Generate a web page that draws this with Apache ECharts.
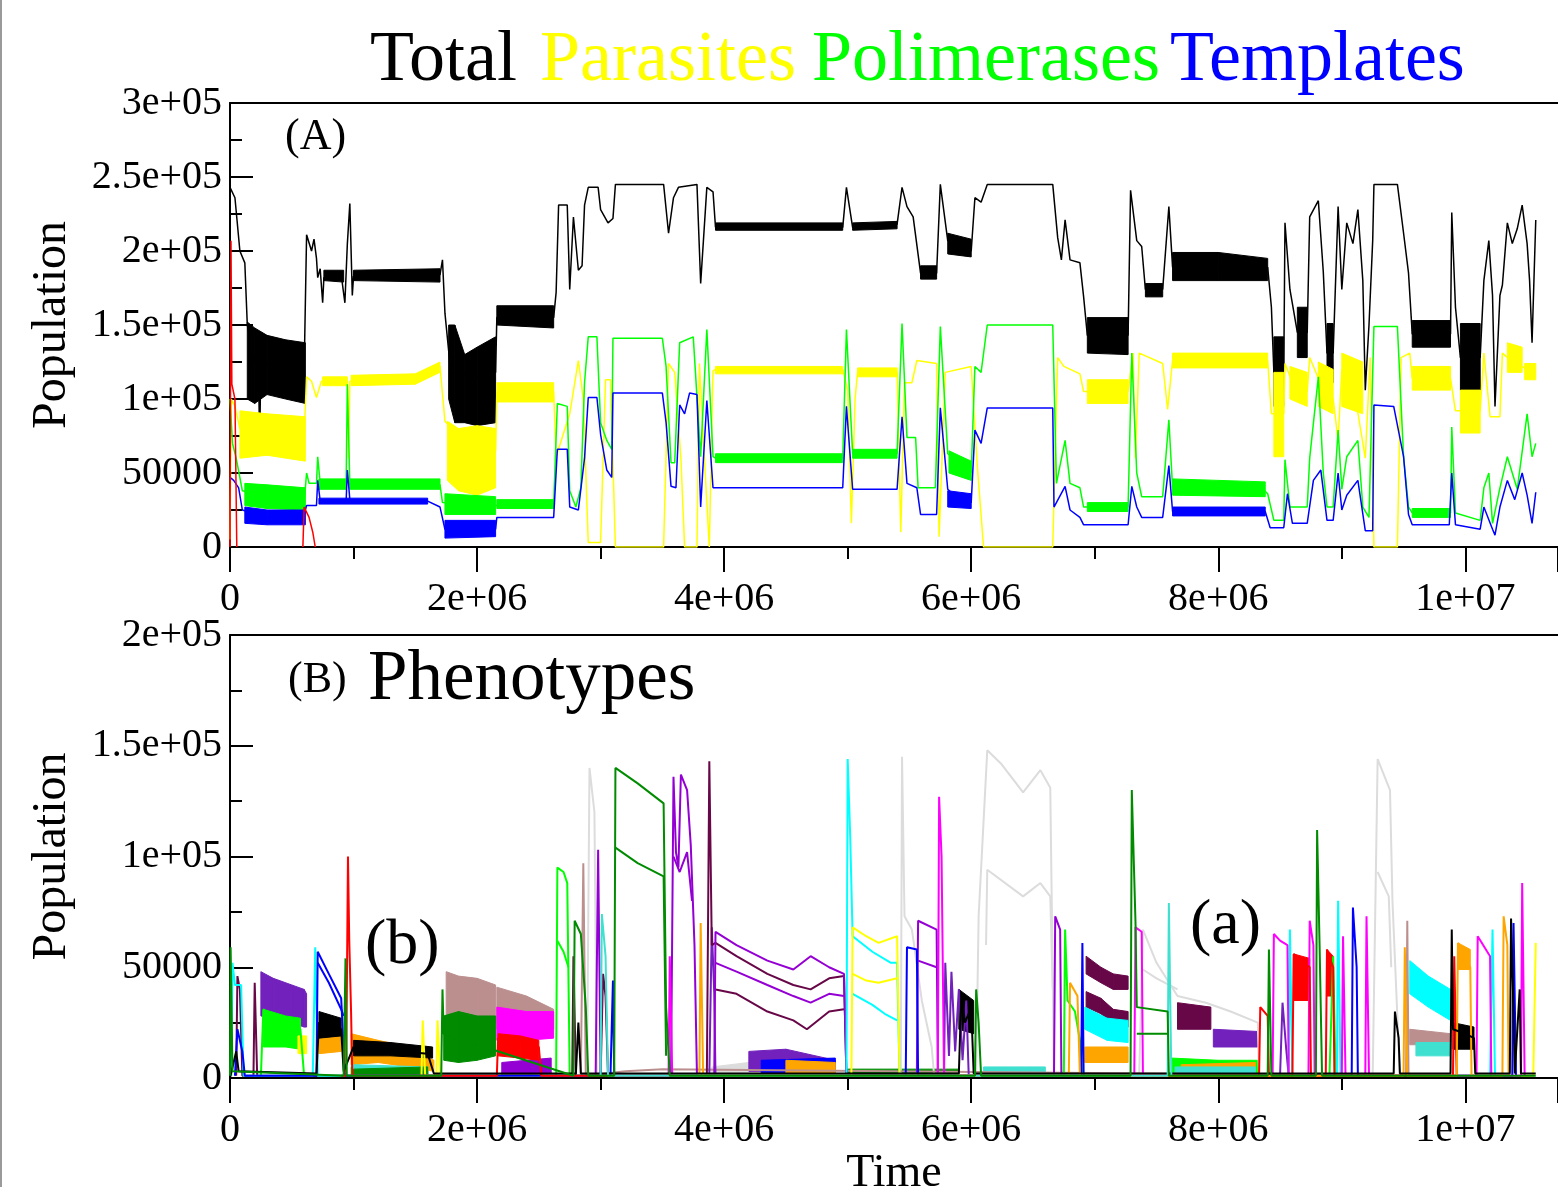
<!DOCTYPE html>
<html><head><meta charset="utf-8">
<script src="https://cdn.jsdelivr.net/npm/echarts@6/dist/echarts.min.js"></script>
<style>html,body{margin:0;padding:0;background:#fff}#c{width:1558px;height:1187px}</style>
</head><body><div id="c"></div>
<script>
// x in units of 1e6 (Time), y in units of 1e3 (Population)
const xTickLabels = ['0','2e+06','4e+06','6e+06','8e+06','1e+07'];
const yTickLabelsA = ['0','50000','1e+05','1.5e+05','2e+05','2.5e+05','3e+05'];
const yTickLabelsB = ['0','50000','1e+05','1.5e+05','2e+05'];
const legendNames = ['Total','Parasites','Polimerases','Templates'];

// ---------- Panel A ----------
const totalLine = [[0,243],[0.04,236],[0.08,200],[0.12,192],[0.14,150],[0.2,125],[0.23,125],[0.24,70],[0.25,125],[0.4,122],[0.6,118],[0.61,118],[0.62,211],[0.66,200],[0.68,208],[0.7,195],[0.71,182],[0.73,188],[0.75,165],[0.76,182],[0.9,184],[0.93,165],[0.95,205],[0.97,232],[0.99,170],[1.0,183],[1.7,184],[1.72,194],[1.74,158],[1.78,124],[1.8,118],[2.0,115],[2.15,118],[2.16,155],[2.62,155],[2.64,172],[2.66,231],[2.73,231],[2.75,174],[2.78,223],[2.82,187],[2.85,190],[2.87,231],[2.9,243],[2.98,243],[3.0,228],[3.06,219],[3.1,222],[3.12,245],[3.51,245],[3.55,212],[3.59,236],[3.63,243],[3.78,245],[3.81,178],[3.86,243],[3.91,240],[3.93,216],[4.96,216],[4.99,243],[5.04,216],[5.4,218],[5.44,243],[5.48,230],[5.53,223],[5.59,185],[5.72,185],[5.75,245],[5.81,207],[5.9,205],[6.0,200],[6.03,236],[6.08,233],[6.13,245],[6.66,245],[6.7,209],[6.73,194],[6.76,221],[6.8,194],[6.88,192],[6.91,169],[6.94,143],[7.27,143],[7.29,241],[7.34,207],[7.38,203],[7.41,174],[7.55,174],[7.6,230],[7.63,189],[8.4,189],[8.43,162],[8.45,118],[8.53,118],[8.54,219],[8.58,174],[8.64,145],[8.72,145],[8.74,223],[8.81,234],[8.85,186],[8.88,131],[8.93,131],[8.97,230],[9.0,174],[9.04,219],[9.09,205],[9.13,228],[9.17,180],[9.19,106],[9.22,150],[9.25,207],[9.26,245],[9.45,245],[9.5,212],[9.54,185],[9.57,144],[9.88,144],[9.89,226],[9.92,162],[9.96,128],[10.12,128],[10.15,180],[10.19,207],[10.22,170],[10.24,95],[10.28,170],[10.3,177],[10.34,219],[10.38,205],[10.42,215],[10.46,231],[10.5,205],[10.52,180],[10.54,138],[10.57,221]];
const totalBands = [
 [[0.14,100,152],[0.2,97,148],[0.3,103,143],[0.45,100,140],[0.61,97,138]],
 [[0.76,180,187],[0.92,179,187]],
 [[1.0,180,187],[1.7,179,188]],
 [[1.77,100,150],[1.82,84,150],[1.9,84,130],[2.0,82,135],[2.15,84,142]],
 [[2.16,150,163],[2.62,148,163]],
 [[3.93,214,219],[4.96,214,219]],
 [[5.04,214,219],[5.4,215,220]],
 [[5.59,181,190],[5.72,181,190]],
 [[5.81,198,212],[6.0,196,208]],
 [[6.94,131,155],[7.27,130,155]],
 [[7.41,169,178],[7.55,169,178]],
 [[7.63,180,199],[8.0,180,199],[8.4,180,195]],
 [[8.45,95,142],[8.53,95,142]],
 [[8.64,128,162],[8.72,128,162]],
 [[8.88,111,151],[8.93,111,151]],
 [[9.57,135,153],[9.88,135,153]],
 [[9.96,106,151],[10.12,106,151]]
];
const parasitesLine = [[0,5],[0.01,100],[0.04,95],[0.08,80],[0.3,75],[0.6,75],[0.62,115],[0.66,112],[0.7,101],[0.74,112],[0.95,112],[0.96,60],[0.97,112],[1.5,113],[1.7,122],[1.74,85],[2.0,62],[2.15,65],[2.16,105],[2.62,105],[2.64,61],[2.75,90],[2.82,126],[2.86,100],[2.9,3],[3.0,3],[3.04,113],[3.08,113],[3.12,0],[3.51,0],[3.55,124],[3.6,118],[3.65,60],[3.68,0],[3.78,0],[3.8,124],[3.84,60],[3.88,0],[3.91,119],[3.93,120],[4.96,120],[5.0,106],[5.03,16],[5.06,100],[5.08,118],[5.4,118],[5.43,10],[5.46,111],[5.52,111],[5.56,126],[5.72,124],[5.74,7],[5.79,118],[6.0,122],[6.05,54],[6.1,0],[6.66,0],[6.7,128],[6.75,122],[6.88,117],[6.91,105],[7.27,105],[7.31,131],[7.33,60],[7.36,131],[7.55,124],[7.59,93],[7.63,126],[8.4,126],[8.43,90],[8.53,90],[8.54,124],[8.6,111],[8.72,105],[8.74,128],[8.85,106],[8.93,100],[8.97,72],[9.0,120],[9.1,106],[9.19,60],[9.23,128],[9.26,0],[9.45,0],[9.48,128],[9.55,131],[9.57,114],[9.88,114],[9.92,92],[10.12,92],[10.15,131],[10.2,88],[10.28,88],[10.3,131],[10.34,128],[10.5,120],[10.57,118]];
const parasitesBands = [
 [[0.08,60,92],[0.3,62,90],[0.61,58,88]],
 [[0.75,109,115],[0.95,109,115]],
 [[0.98,109,116],[1.5,110,117],[1.7,118,125]],
 [[1.76,45,85],[1.85,38,80],[2.0,35,82],[2.15,40,80]],
 [[2.16,98,111],[2.62,98,111]],
 [[3.93,117,122],[4.96,117,122]],
 [[5.08,115,121],[5.4,115,121]],
 [[6.94,97,113],[7.27,97,113]],
 [[7.63,121,131],[8.4,121,131]],
 [[8.45,61,118],[8.53,61,118]],
 [[8.58,100,122],[8.72,95,118]],
 [[8.81,95,125],[8.93,90,120]],
 [[9.0,95,131],[9.17,90,125]],
 [[9.57,106,122],[9.88,106,122]],
 [[9.96,77,106],[10.12,77,106]],
 [[10.34,118,138],[10.46,118,135]],
 [[10.48,113,124],[10.57,113,124]]
];
const polimerasesLine = [[0,100],[0.02,70],[0.05,60],[0.1,38],[0.3,34],[0.6,30],[0.62,50],[0.64,43],[0.7,43],[0.71,61],[0.73,43],[0.94,42],[0.95,110],[0.97,42],[1.7,42],[1.72,30],[2.15,28],[2.16,29],[2.62,29],[2.65,97],[2.73,95],[2.75,38],[2.8,27],[2.84,40],[2.87,111],[2.9,142],[2.97,142],[3.0,84],[3.05,72],[3.09,66],[3.1,141],[3.5,141],[3.53,122],[3.57,57],[3.6,57],[3.64,138],[3.75,142],[3.81,61],[3.86,147],[3.91,61],[3.93,60],[4.96,60],[4.99,147],[5.04,63],[5.4,63],[5.44,151],[5.48,74],[5.55,74],[5.57,40],[5.71,40],[5.75,149],[5.81,63],[6.0,50],[6.03,122],[6.08,118],[6.13,150],[6.66,150],[6.69,43],[6.76,72],[6.8,43],[6.88,40],[6.91,27],[7.27,27],[7.3,131],[7.34,50],[7.38,34],[7.55,34],[7.6,86],[7.63,40],[8.35,40],[8.4,36],[8.45,18],[8.53,18],[8.54,59],[8.58,27],[8.72,27],[8.74,60],[8.81,115],[8.85,50],[8.88,27],[8.93,27],[8.97,79],[9.0,39],[9.04,61],[9.13,72],[9.17,27],[9.22,20],[9.26,149],[9.45,149],[9.5,61],[9.54,27],[9.57,23],[9.88,23],[9.89,81],[9.92,23],[10.12,18],[10.15,40],[10.19,50],[10.22,16],[10.28,40],[10.34,61],[10.42,39],[10.5,90],[10.54,61],[10.57,70]];
const polimerasesBands = [
 [[0.12,28,43],[0.3,26,42],[0.61,25,40]],
 [[0.72,39,46],[0.94,39,46]],
 [[0.97,39,46],[1.7,39,46]],
 [[1.74,22,36],[2.15,22,34]],
 [[2.16,26,32],[2.62,26,32]],
 [[3.93,57,63],[4.96,57,63]],
 [[5.04,60,66],[5.4,60,66]],
 [[5.82,50,65],[6.0,45,58]],
 [[6.94,24,30],[7.27,24,30]],
 [[7.63,35,46],[8.38,34,44]],
 [[9.57,20,26],[9.88,20,26]]
];
const templatesLine = [[0,47],[0.03,45],[0.07,40],[0.1,25],[0.3,20],[0.6,22],[0.62,28],[0.7,28],[0.71,45],[0.73,31],[0.94,31],[0.95,52],[0.97,32],[1.6,31],[1.7,27],[1.74,12],[2.15,12],[2.16,20],[2.62,20],[2.65,66],[2.73,66],[2.75,27],[2.82,25],[2.87,60],[2.9,101],[2.97,101],[3.0,76],[3.05,52],[3.09,47],[3.1,104],[3.5,104],[3.53,84],[3.57,41],[3.61,40],[3.64,96],[3.68,90],[3.72,104],[3.78,103],[3.81,27],[3.86,99],[3.91,40],[4.96,40],[4.99,95],[5.04,39],[5.4,39],[5.44,88],[5.48,43],[5.56,40],[5.59,22],[5.72,22],[5.75,94],[5.81,39],[5.9,32],[6.0,30],[6.03,79],[6.08,70],[6.13,94],[6.66,94],[6.67,27],[6.76,41],[6.8,25],[6.88,20],[6.91,15],[7.27,15],[7.3,41],[7.34,27],[7.38,20],[7.55,20],[7.6,55],[7.63,24],[8.38,24],[8.42,13],[8.53,13],[8.56,36],[8.6,16],[8.72,16],[8.77,45],[8.83,52],[8.88,18],[8.93,18],[8.97,50],[9.0,25],[9.04,35],[9.13,45],[9.19,11],[9.25,11],[9.26,96],[9.42,95],[9.5,61],[9.54,22],[9.57,15],[9.87,15],[9.89,50],[9.92,15],[10.12,12],[10.15,27],[10.22,12],[10.24,8],[10.28,27],[10.34,45],[10.4,32],[10.46,50],[10.5,35],[10.54,16],[10.57,37]];
const templatesBands = [
 [[0.12,16,27],[0.3,15,25],[0.61,15,25]],
 [[0.72,29,33],[1.6,29,33]],
 [[1.74,6,18],[2.15,7,18]],
 [[5.81,27,38],[6.0,26,36]],
 [[7.63,21,27],[8.38,21,27]]
];
const redLine = [[0,0],[0.008,207],[0.015,110],[0.04,100],[0.055,0],[0.06,null],[0.59,0],[0.6,27],[0.64,20],[0.67,10],[0.69,0]];

// ---------- Panel B (Phenotypes) ----------
const phBlack = [[0,0],[0.05,12],[0.07,3],[0.7,2],[0.72,25],[0.8,24],[0.9,22],[0.92,3],[1.0,14],[1.2,13],[1.4,12],[1.6,11],[1.65,2],[2.8,2],[2.82,25],[2.84,2],[5.9,2],[5.92,38],[5.95,25],[6.0,32],[6.02,2],[9.42,2],[9.43,30],[9.46,18],[9.47,2],[9.88,2],[9.89,67],[9.9,22],[10.0,20],[10.07,18],[10.08,2],[10.36,2],[10.37,72],[10.39,30],[10.4,2],[10.44,40],[10.45,2],[10.57,2]];
const phBlackBands = [[[0.72,18,30],[0.9,19,27]],[[1.0,10,17],[1.3,10,16],[1.64,9,14]],[[5.9,22,40],[6.02,20,35]],[[9.9,13,25],[10.07,13,23]]];
const phRed = [[0.9,1],[0.94,1],[0.955,100],[0.965,63],[0.98,30],[0.99,1],[2.16,1],[2.17,18],[2.5,14],[2.52,1],[8.33,1],[8.34,32],[8.4,28],[8.41,1],[8.6,1],[8.61,56],[8.74,50],[8.75,1],[8.87,1],[8.88,58],[8.93,50],[8.94,1],[9.9,1],[9.91,55],[9.93,1]];
const phRedBands = [[[2.17,10,20],[2.35,9,19],[2.5,8,17]],[[8.61,35,56],[8.74,35,54]],[[8.88,37,58],[8.93,37,55]]];
const phLime = [[0.25,1],[0.27,31],[0.4,24],[0.57,22],[0.6,1],[2.64,1],[2.65,95],[2.7,93],[2.73,88],[2.75,1],[6.75,1],[6.76,67],[6.78,35],[6.84,30],[6.88,17],[6.9,1],[8.9,1],[8.93,55],[8.95,1]];
const phLime2 = [[2.65,62],[2.7,57],[2.74,50]];
const phLimeBands = [[[0.27,14,31],[0.45,14,28],[0.57,13,27]],[[7.62,2,9],[8.0,2,8],[8.32,2,8]],[[0.98,1,5],[1.6,1,5]]];
const phBlue = [[0.04,1],[0.06,22],[0.1,12],[0.12,1],[0.7,1],[0.71,57],[0.8,47],[0.9,36],[0.93,1],[3.08,1],[3.1,44],[3.11,1],[5.47,1],[5.48,59],[5.56,58],[5.57,1],[6.89,1],[6.9,61],[6.91,1],[9.08,1],[9.09,77],[9.12,50],[9.13,1],[10.38,1],[10.39,70],[10.41,1]];
const phBlue2 = [[0.71,52],[0.8,43],[0.9,31],[0.92,28]];
const phBlueBands = [[[4.3,2,8],[4.9,2,9]],[[1.1,1,4],[1.6,1,4]]];
const phYellow = [[1.55,1],[1.56,26],[1.58,1],[1.67,1],[1.68,26],[1.7,1],[5.03,1],[5.04,68],[5.15,64],[5.25,61],[5.4,64],[5.42,1],[10.55,1],[10.57,61]];
const phYellow2 = [[5.04,47],[5.15,44],[5.25,43],[5.4,45]];
const phYellowBands = [[[0.55,11,19],[0.62,11,19]],[[4.4,2,6],[4.9,2,6]]];
const phBrown = [[2.84,1],[2.86,97],[2.88,1],[3.2,3],[3.5,4],[9.52,1],[9.53,71],[9.54,1]];
const phBrownBands = [[[1.75,24,48],[1.85,26,46],[2.0,27,45],[2.15,25,42]],[[2.16,22,41],[2.4,20,37],[2.62,22,31]],[[9.55,15,22],[9.88,15,20]]];
const phGrey = [[2.89,1],[2.91,140],[2.95,120],[2.97,1],[5.43,1],[5.44,145],[5.46,73],[5.52,67],[5.6,35],[5.68,14],[5.7,1],[6.04,1],[6.06,73],[6.13,148],[6.24,142],[6.42,129],[6.56,139],[6.64,131],[6.67,1],[7.36,1],[7.39,67],[7.5,52],[7.67,37],[7.9,34],[8.1,30],[8.32,25],[8.33,1],[9.25,1],[9.29,144],[9.39,130],[9.41,80],[9.47,1]];
const phGrey2 = [[6.12,60],[6.13,94],[6.42,82],[6.56,88],[6.64,82],[6.66,40],[6.67,null],[7.39,49],[7.5,45],[7.67,40],[7.68,null],[9.29,93],[9.38,82],[9.4,50]];
const phGreyBands = [[[3.9,1,5],[4.2,2,7],[4.35,1,5]]];
const phViolet = [[2.96,1],[2.98,103],[3.0,1],[3.57,1],[3.59,136],[3.61,102],[3.63,95],[3.65,137],[3.7,130],[3.73,105],[3.76,60],[3.78,1],[3.92,1],[3.93,66],[4.1,60],[4.35,53],[4.56,49],[4.7,55],[4.85,50],[4.97,47],[4.99,1],[5.56,1],[5.57,71],[5.72,67],[5.73,1],[6.67,1],[6.68,73],[6.72,67],[6.73,1]];
const phViolet2 = [[3.59,100],[3.64,93],[3.7,102],[3.74,80],[3.75,null],[3.93,52],[4.1,48],[4.35,42],[4.56,37],[4.7,34],[4.85,38],[4.97,37],[4.98,null],[5.57,53],[5.72,50]];
const phVioletBands = [[[2.2,1,7],[2.6,2,9]],[[1.0,1,5],[1.6,1,4]]];
const phCyan = [[0.01,1],[0.02,52],[0.04,42],[0.09,42],[0.11,1],[0.67,1],[0.69,59],[0.71,1],[4.99,1],[5.0,144],[5.02,110],[5.04,64],[5.2,57],[5.35,52],[5.4,52],[5.42,1],[8.57,1],[8.58,67],[8.6,1],[8.96,1],[8.97,80],[8.99,1],[10.2,1],[10.22,67],[10.24,1]];
const phCyan2 = [[5.04,38],[5.2,33],[5.3,29],[5.4,26]];
const phCyanBands = [[[6.92,22,32],[7.1,17,27],[7.27,16,26]],[[9.55,38,53],[9.7,32,46],[9.88,26,40]]];
const phMagenta = [[3.55,1],[3.56,55],[3.58,1],[5.73,1],[5.74,127],[5.76,100],[5.78,1],[7.32,1],[7.33,68],[7.38,66],[7.39,1],[8.44,1],[8.45,65],[8.5,62],[8.56,60],[8.57,1],[8.73,1],[8.74,71],[8.77,60],[8.78,1],[9.0,1],[9.01,64],[9.03,1],[9.19,1],[9.2,73],[9.22,1],[10.09,1],[10.1,64],[10.2,55],[10.21,1],[10.45,1],[10.46,88],[10.48,1]];
const phMagentaBands = [[[2.16,17,32],[2.4,17,30],[2.62,18,30]]];
const phOrange = [[3.8,1],[3.81,70],[3.83,1],[6.79,1],[6.8,43],[6.86,37],[6.88,1],[9.5,1],[9.51,59],[9.53,1],[9.93,1],[9.94,61],[10.04,50],[10.05,1],[10.3,1],[10.31,73],[10.34,60],[10.35,1]];
const phOrangeBands = [[[0.72,11,19],[0.9,12,19]],[[0.98,6,20],[1.2,7,17],[1.45,5,14],[1.65,3,8]],[[6.92,7,14],[7.27,7,14]],[[9.94,49,61],[10.04,49,58]],[[4.5,2,8],[4.9,2,7]],[[7.7,1,6],[8.3,2,7]]];
const phIndigo = [[3.88,1],[3.9,68],[3.92,38],[3.93,1],[5.78,1],[5.79,52],[5.82,10],[5.84,48],[5.87,12],[5.9,40],[5.93,8],[5.96,35],[5.98,1],[8.5,1],[8.52,34],[8.55,13],[8.57,1]];
const phIndigoBands = [[[0.25,28,48],[0.35,27,45],[0.5,25,42],[0.6,23,40],[0.62,23,38]],[[4.2,3,12],[4.5,3,13],[4.9,2,8]],[[7.96,14,22],[8.32,14,21]]];
const phMaroon = [[0.05,1],[0.06,46],[0.08,40],[0.1,1],[0.19,1],[0.2,43],[0.22,1],[2.77,1],[2.78,55],[2.8,1],[3.0,1],[3.02,47],[3.04,37],[3.06,1],[3.86,1],[3.88,143],[3.9,60],[3.93,61],[4.1,55],[4.35,47],[4.56,42],[4.7,40],[4.85,45],[4.97,46],[4.99,1]];
const phMaroon2 = [[3.93,40],[4.1,38],[4.35,30],[4.56,26],[4.67,22],[4.85,30],[4.97,31]];
const phMaroonBands = [[[6.93,47,55],[7.05,43,50],[7.15,40,47],[7.27,40,46]],[[6.93,32,39],[7.05,29,36],[7.15,24,31],[7.27,23,30]],[[7.67,22,34],[7.94,22,32]]];
const phTurq = [[3.0,1],[3.01,74],[3.04,55],[3.06,1],[7.59,1],[7.6,79],[7.62,1]];
const phTurqBands = [[[6.1,1,5],[6.6,1,5]],[[9.6,10,16],[9.88,10,16]],[[1.0,1,6],[1.6,1,5]],[[7.65,1,5],[8.3,1,5]]];
const phGreen4 = [[0,1],[0.005,59],[0.02,3],[0.92,1],[0.935,54],[0.945,1],[1.71,1],[1.72,40],[1.73,20],[2.78,1],[2.79,71],[2.84,65],[2.88,32],[2.9,1],[3.11,1],[3.12,140],[3.3,133],[3.51,124],[3.53,32],[3.56,1],[6.03,1],[6.04,40],[6.06,25],[6.08,1],[7.29,1],[7.3,130],[7.33,70],[7.34,32],[7.59,30],[7.6,1],[8.4,1],[8.41,58],[8.43,1],[8.79,1],[8.8,112],[8.82,60],[8.84,1],[10.57,1]];
const phGreen4b = [[3.12,104],[3.3,97],[3.51,91],[3.53,10],[3.54,null],[7.34,20],[7.59,20]];
const phGreen4Bands = [[[1.73,8,28],[1.85,7,30],[2.0,8,28],[2.15,10,28]],[[1.0,1,4],[1.6,1,5]],[[5.0,1,4],[5.9,1,4]]];

// ---------- build ----------
const FONT = 'Liberation Serif';
const C = {black:'#000000',red:'#ff0000',lime:'#00ff00',blue:'#0000ff',yellow:'#ffff00',brown:'#bc8f8f',grey:'#dcdcdc',violet:'#9400d3',cyan:'#00ffff',magenta:'#ff00ff',orange:'#ffa500',indigo:'#7221bc',maroon:'#670748',turq:'#40e0d0',green4:'#008b00'};

function toData(arr){ return arr.map(p => [p[0], p[1] === null ? '-' : p[1]]); }
function line(arr, color, gi, w, z){
  return {type:'line', xAxisIndex: gi*2, yAxisIndex: gi, data: toData(arr), showSymbol:false, symbol:'none',
    lineStyle:{color:color, width:w}, itemStyle:{color:color}, animation:false, silent:true, z:z||2, connectNulls:false};
}
function bands(list, color, gi, z){
  const segs = [];
  list.forEach(b => { for (let i=0;i<b.length-1;i++) segs.push([b[i][0], b[i][1], b[i][2], b[i+1][0], b[i+1][1], b[i+1][2]]); });
  return {type:'custom', xAxisIndex: gi*2, yAxisIndex: gi, data: segs, clip:true, animation:false, silent:true, z:z||2,
    encode:{x:[0,3], y:[1,2,4,5]},
    renderItem: function(params, api){
      const a = api.coord([api.value(0), api.value(1)]);
      const b = api.coord([api.value(0), api.value(2)]);
      const c = api.coord([api.value(3), api.value(5)]);
      const d = api.coord([api.value(3), api.value(4)]);
      return {type:'polygon', shape:{points:[a,b,c,d]}, style:{fill:color, stroke:color, lineWidth:1}};
    }};
}

function xAx(gi, showName){
  return {type:'value', gridIndex: gi, min:0, max:10.75, interval:2, position:'bottom',
    axisLine:{onZero:false, lineStyle:{color:'#000', width:2}},
    axisTick:{inside:false, length:25, lineStyle:{color:'#000', width:2}},
    minorTick:{show:true, splitNumber:2, length:12, lineStyle:{color:'#000', width:2}},
    splitLine:{show:false},
    axisLabel:{margin:32, color:'#000', fontFamily:FONT, fontSize:40, formatter: v => xTickLabels[Math.round(v/2)]},
    name: showName ? 'Time' : '', nameLocation:'middle', nameGap:72,
    nameTextStyle:{color:'#000', fontFamily:FONT, fontSize:46}};
}
function xTop(gi){
  return {type:'value', gridIndex: gi, min:0, max:10.75, position:'top',
    axisLine:{show:true, onZero:false, lineStyle:{color:'#000', width:2}}, axisTick:{show:false}, axisLabel:{show:false}, splitLine:{show:false}};
}
function yAx(gi, max, labels){
  return {type:'value', gridIndex: gi, min:0, max:max, interval:50,
    axisLine:{show:true, lineStyle:{color:'#000', width:2}},
    axisTick:{show:true, inside:true, length:23, lineStyle:{color:'#000', width:2}},
    minorTick:{show:true, splitNumber:2, length:12, lineStyle:{color:'#000', width:2}},
    splitLine:{show:false},
    axisLabel:{margin:8, color:'#000', fontFamily:FONT, fontSize:40, formatter: v => labels[Math.round(v/50)]},
    name:'Population', nameLocation:'middle', nameRotate:90, nameGap:154,
    nameTextStyle:{color:'#000', fontFamily:FONT, fontSize:48}};
}

const series = [
  bands(totalBands, C.black, 0, 2), line(totalLine, C.black, 0, 1.5, 2),
  bands(parasitesBands, C.yellow, 0, 3), line(parasitesLine, C.yellow, 0, 1.5, 3),
  bands(polimerasesBands, C.lime, 0, 4), line(polimerasesLine, C.lime, 0, 1.5, 4),
  bands(templatesBands, C.blue, 0, 5), line(templatesLine, C.blue, 0, 1.5, 5),
  line(redLine, C.red, 0, 1.5, 6),

  bands(phGreyBands, C.grey, 1), line(phGrey, C.grey, 1, 2), line(phGrey2, C.grey, 1, 2),
  bands(phBrownBands, C.brown, 1), line(phBrown, C.brown, 1, 2),
  bands(phIndigoBands, C.indigo, 1), line(phIndigo, C.indigo, 1, 2),
  bands(phLimeBands, C.lime, 1), line(phLime, C.lime, 1, 2), line(phLime2, C.lime, 1, 2),
  bands(phMaroonBands, C.maroon, 1), line(phMaroon, C.maroon, 1, 2), line(phMaroon2, C.maroon, 1, 2),
  bands(phVioletBands, C.violet, 1), line(phViolet, C.violet, 1, 2), line(phViolet2, C.violet, 1, 2),
  bands(phCyanBands, C.cyan, 1), line(phCyan, C.cyan, 1, 2), line(phCyan2, C.cyan, 1, 2),
  bands(phYellowBands, C.yellow, 1), line(phYellow, C.yellow, 1, 2), line(phYellow2, C.yellow, 1, 2),
  bands(phBlueBands, C.blue, 1), line(phBlue, C.blue, 1, 2), line(phBlue2, C.blue, 1, 2),
  bands(phMagentaBands, C.magenta, 1), line(phMagenta, C.magenta, 1, 2),
  bands(phRedBands, C.red, 1), line(phRed, C.red, 1, 2),
  bands(phOrangeBands, C.orange, 1), line(phOrange, C.orange, 1, 2),
  bands(phBlackBands, C.black, 1), line(phBlack, C.black, 1, 2),
  bands(phTurqBands, C.turq, 1), line(phTurq, C.turq, 1, 2),
  bands(phGreen4Bands, C.green4, 1), line(phGreen4, C.green4, 1, 2), line(phGreen4b, C.green4, 1, 2)
];

const legendColors = [C.black, C.yellow, C.lime, C.blue];
const legendX = [370, 540, 812, 1170];
const graphics = [
  {type:'rect', shape:{x:0, y:0, width:2, height:1187}, style:{fill:'#9a9a9a'}, silent:true},
  {type:'text', x:285, y:137, style:{text:'(A)', font:'44px "Liberation Serif"', fill:'#000', textVerticalAlign:'middle', verticalAlign:'middle'}},
  {type:'text', x:288, y:680, style:{text:'(B)', font:'44px "Liberation Serif"', fill:'#000', textVerticalAlign:'middle', verticalAlign:'middle'}},
  {type:'text', x:368, y:680, style:{text:'Phenotypes', font:'71px "Liberation Serif"', fill:'#000', textVerticalAlign:'middle', verticalAlign:'middle'}},
  {type:'text', x:365, y:946, style:{text:'(b)', font:'64px "Liberation Serif"', fill:'#000', textVerticalAlign:'middle', verticalAlign:'middle'}},
  {type:'text', x:1190, y:926, style:{text:'(a)', font:'64px "Liberation Serif"', fill:'#000', textVerticalAlign:'middle', verticalAlign:'middle'}}
];
legendNames.forEach((n,i) => graphics.push({type:'text', x:legendX[i], y:61, style:{text:n, font:'72px "Liberation Serif"', fill:legendColors[i], textVerticalAlign:'middle', verticalAlign:'middle'}}));

const chart = echarts.init(document.getElementById('c'), null, {renderer:'canvas'});
chart.setOption({
  backgroundColor:'#ffffff',
  animation:false,
  grid:[{left:230, right:0, top:103, height:444, outerBoundsMode:'none', containLabel:false},
        {left:230, right:0, top:635, height:443, outerBoundsMode:'none', containLabel:false}],
  xAxis:[xAx(0,false), xTop(0), xAx(1,true), xTop(1)],
  yAxis:[yAx(0,300,yTickLabelsA), yAx(1,200,yTickLabelsB)],
  series: series,
  graphic: graphics
});
</script></body></html>
